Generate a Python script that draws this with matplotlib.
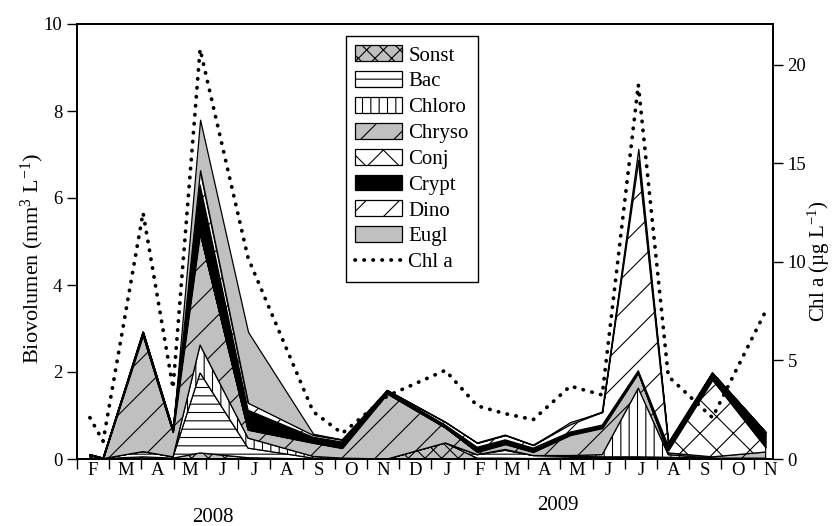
import matplotlib
matplotlib.use('Agg')
import matplotlib.pyplot as plt
import numpy as np
from matplotlib.patches import Patch
from matplotlib.lines import Line2D

plt.rcParams['font.family'] = ['Liberation Serif', 'DejaVu Serif']
plt.rcParams['mathtext.fontset'] = 'custom'
plt.rcParams['mathtext.rm'] = 'Liberation Serif'
plt.rcParams['hatch.linewidth'] = 0.8

# ---- data ----
month_labels = ['F', 'M', 'A', 'M', 'J', 'J', 'A', 'S', 'O', 'N', 'D',
                'J', 'F', 'M', 'A', 'M', 'J', 'J', 'A', 'S', 'O', 'N']
year_labels = ['2008', '2009']
# sampling dates, in months since 1 Feb 2008
sample_t = [0.40, 0.81, 2.05, 2.98, 3.82, 5.31, 7.33, 8.23, 9.63, 11.43,
            12.42, 13.29, 14.16, 15.31, 16.30, 17.42, 18.35, 19.72, 21.37]

sonst = [0.08, 0.01, 0.05, 0.02, 0.14, 0.03, 0.00, 0.00, 0.00, 0.37,
         0.02, 0.02, 0.01, 0.03, 0.03, 0.03, 0.02, 0.02, 0.02]
bac = [0.00, 0.00, 0.12, 0.03, 1.84, 0.22, 0.02, 0.00, 0.00, 0.00,
       0.08, 0.18, 0.07, 0.03, 0.02, 0.02, 0.02, 0.00, 0.00]
chloro = [0.00, 0.00, 0.00, 0.00, 0.64, 0.23, 0.04, 0.02, 0.00, 0.00,
          0.00, 0.02, 0.00, 0.02, 0.05, 1.58, 0.06, 0.00, 0.00]
chryso = [0.02, 0.01, 2.68, 0.57, 2.58, 0.19, 0.31, 0.23, 1.50, 0.35,
          0.06, 0.12, 0.08, 0.47, 0.61, 0.35, 0.04, 0.03, 0.14]
conj = [0.00, 0.00, 0.00, 0.00, 0.00, 0.00, 0.00, 0.00, 0.00, 0.00,
        0.00, 0.00, 0.00, 0.00, 0.00, 0.00, 0.06, 1.77, 0.11]
crypt = [0.00, 0.00, 0.07, 0.05, 1.10, 0.45, 0.13, 0.14, 0.07, 0.06,
         0.11, 0.10, 0.09, 0.07, 0.07, 0.05, 0.10, 0.16, 0.35]
dino = [0.00, 0.00, 0.00, 0.00, 0.34, 0.17, 0.05, 0.05, 0.01, 0.07,
        0.10, 0.11, 0.07, 0.18, 0.30, 4.85, 0.07, 0.00, 0.00]
eugl = [0.00, 0.00, 0.00, 0.00, 1.16, 1.63, 0.03, 0.01, 0.00, 0.00,
        0.00, 0.00, 0.00, 0.05, 0.00, 0.25, 0.00, 0.00, 0.00]
chl_a = [2.1, 0.9, 12.5, 3.6, 20.8, 10.2, 2.4, 1.3, 3.2, 4.5,
         2.7, 2.3, 2.0, 3.7, 3.25, 19.0, 4.2, 2.1, 7.5]

series_names = ['Sonst', 'Bac', 'Chloro', 'Chryso', 'Conj', 'Crypt', 'Dino', 'Eugl']
series_values = [sonst, bac, chloro, chryso, conj, crypt, dino, eugl]

# ---- styles ----
faces = ['#c0c0c0', 'white', 'white', '#c0c0c0', 'white', 'black', 'white', '#c0c0c0']
hatches = ['xx', '--', '||', '/', 'x', None, '/', None]

W, H = 834, 526
fig = plt.figure(figsize=(W / 100, H / 100), dpi=100)
L, R, B, T = 77, 773, 459, 24
ax = fig.add_axes([L / W, 1 - B / H, (R - L) / W, (B - T) / H])

t = np.array(sample_t)
base = np.zeros(len(t))
for name, vals, fc, h in zip(series_names, series_values, faces, hatches):
    top = base + np.array(vals)
    ax.fill_between(t, base, top, facecolor=fc, edgecolor='black',
                    hatch=h, linewidth=0.9, zorder=2)
    base = top

ax.set_xlim(0, 21.6)
ax.set_ylim(0, 10)
ax.set_yticks([0, 2, 4, 6, 8, 10])
ax.set_xticks(np.arange(0, 22))
ax.set_xticklabels([])
ax.set_xticks(np.arange(len(month_labels)) + 0.5, minor=True)
ax.set_xticklabels(month_labels, minor=True)
ax.tick_params(axis='x', which='major', direction='out', length=7, width=1.0)
ax.tick_params(axis='x', which='minor', length=0, labelsize=13.5, pad=2)
ax.tick_params(axis='y', direction='out', length=7, width=1.0, labelsize=13.5)
for s in ax.spines.values():
    s.set_linewidth(1.4)
ax.set_ylabel('Biovolumen (mm$\\mathregular{^{3}}$ L$\\mathregular{^{-1}}$)', fontsize=16)
ax.yaxis.set_label_coords((46 - L) / (R - L), 0.46)

ax2 = ax.twinx()
ax2.plot(t, chl_a, color='black', lw=2.7, linestyle=(0, (0.1, 2.3)),
         dash_capstyle='round', zorder=3)
ax2.set_ylim(0, 22.08)
ax2.set_yticks([0, 5, 10, 15, 20])
ax2.tick_params(axis='y', direction='out', length=7, width=1.0, labelsize=13.5)
for s in ax2.spines.values():
    s.set_linewidth(1.4)
ax2.set_ylabel('Chl a (µg L$\\mathregular{^{-1}}$)', fontsize=15, rotation=90)
ax2.yaxis.label.set_va('baseline')
ax2.yaxis.set_label_coords((825 - L) / (R - L), 0.455)

handles = [Patch(facecolor=fc, edgecolor='black', hatch=h, linewidth=0.9)
           for fc, h in zip(faces, hatches)]
handles.append(Line2D([], [], color='black', lw=2.7, linestyle=(0, (0.1, 2.3)),
                      dash_capstyle='round'))
labels = series_names + ['Chl a']
leg = ax2.legend(handles, labels, loc='upper left',
                 bbox_to_anchor=((346 - L) / (R - L), (B - 36) / (B - T)),
                 borderaxespad=0, fontsize=15, frameon=True, fancybox=False,
                 edgecolor='black', framealpha=1, handlelength=2.25,
                 handleheight=0.8, handletextpad=0.3, labelspacing=0.27,
                 borderpad=0.45)
leg.get_frame().set_linewidth(1.0)

fig.text(213 / W, 1 - 517 / H, year_labels[0], ha='center', va='center', fontsize=15)
fig.text(558 / W, 1 - 505 / H, year_labels[1], ha='center', va='center', fontsize=15)

fig.savefig('out.png', dpi=100)
